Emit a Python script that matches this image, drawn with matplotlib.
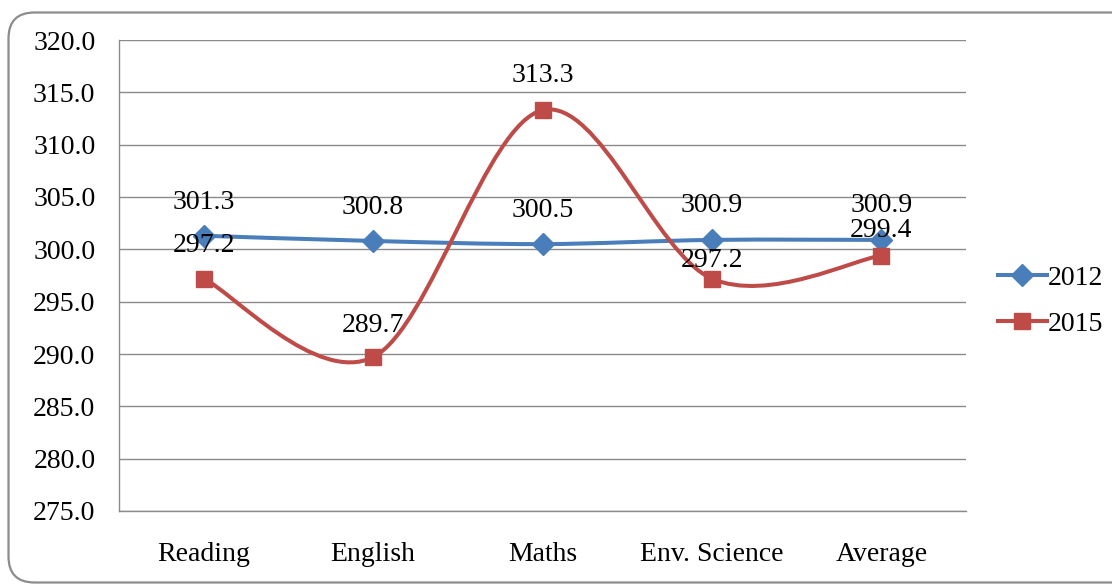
import matplotlib.pyplot as plt
import numpy as np
from matplotlib.path import Path
from matplotlib.patches import PathPatch, FancyBboxPatch
from matplotlib.lines import Line2D

plt.rcParams['font.family'] = ['Liberation Serif', 'DejaVu Serif']

categories = ['Reading', 'English', 'Maths', 'Env. Science', 'Average']
scores_2012 = [301.3, 300.8, 300.5, 300.9, 300.9]
scores_2015 = [297.2, 289.7, 313.3, 297.2, 299.4]
series_names = ['2012', '2015']
y_ticks = np.arange(275.0, 320.1, 5.0)

BLUE = '#4A7EBB'
RED = '#BE4B48'
GRID = '#8a8a8a'
FONT_SIZE = 20
LINE_W = 2.9

# how far above each marker its value label sits, in points
label_raise_2012 = [24, 24, 24, 25, 25]
label_raise_2015 = [24, 23, 25, 13, 18]


def smooth_path(xs, ys, tension=1.0 / 6.0):
    # spreadsheet-style smoothed line: cubic bezier through every point
    pts = np.column_stack([xs, ys]).astype(float)
    n = len(pts)
    verts = [pts[0]]
    codes = [Path.MOVETO]
    for i in range(n - 1):
        p_prev = pts[i - 1] if i > 0 else pts[i]
        p_next = pts[i + 2] if i + 2 < n else pts[i + 1]
        c1 = pts[i] + (pts[i + 1] - p_prev) * tension
        c2 = pts[i + 1] - (p_next - pts[i]) * tension
        verts += [c1, c2, pts[i + 1]]
        codes += [Path.CURVE4] * 3
    return Path(verts, codes)


def draw_series(ax, xs, ys, color, marker, msize, raises):
    patch = PathPatch(smooth_path(xs, ys), facecolor='none', edgecolor=color,
                      lw=LINE_W, capstyle='round', joinstyle='round', zorder=3)
    ax.add_patch(patch)
    ax.plot(xs, ys, linestyle='none', marker=marker, markersize=msize,
            color=color, markeredgecolor=color, zorder=4)
    for x, y, r in zip(xs, ys, raises):
        ax.annotate('%.1f' % y, (x, y), xytext=(0, r), textcoords='offset points',
                    ha='center', va='center', fontsize=FONT_SIZE, zorder=5)


fig = plt.figure(figsize=(11.12, 5.85), dpi=100)

# rounded chart frame, drawn on a pixel-unit background axes
bg = fig.add_axes([0, 0, 1, 1], zorder=-1)
bg.set_xlim(0, 1112)
bg.set_ylim(585, 0)
bg.axis('off')
frame = FancyBboxPatch((8.5, 12.5), 1200, 570,
                       boxstyle='round,pad=0,rounding_size=26',
                       facecolor='white', edgecolor='#8c8c8c', lw=1.6)
bg.add_patch(frame)

ax = fig.add_axes([119 / 1112, 74 / 585, 847 / 1112, 471 / 585])
ax.set_facecolor('none')
x = np.arange(len(categories))

draw_series(ax, x, scores_2012, BLUE, 'D', 11, label_raise_2012)
draw_series(ax, x, scores_2015, RED, 's', 11.5, label_raise_2015)

ax.set_xlim(-0.5, len(categories) - 0.5)
ax.set_ylim(275, 320)
ax.set_yticks(y_ticks)
ax.set_yticklabels(['%.1f' % v for v in y_ticks])
ax.set_xticks(x)
ax.set_xticklabels(categories)
ax.tick_params(axis='both', length=0, labelsize=FONT_SIZE)
ax.tick_params(axis='y', pad=17)
ax.tick_params(axis='x', pad=22)
ax.grid(axis='y', color=GRID, lw=1.0)
ax.set_axisbelow(True)
for side in ['top', 'right']:
    ax.spines[side].set_visible(False)
for side in ['left', 'bottom']:
    ax.spines[side].set_color(GRID)
    ax.spines[side].set_linewidth(1.0)

handles = [Line2D([], [], color=BLUE, lw=LINE_W, marker='D', markersize=11),
           Line2D([], [], color=RED, lw=LINE_W, marker='s', markersize=11.5)]
fig.legend(handles, series_names, loc='center left',
           bbox_to_anchor=(998 / 1112, 1 - 301 / 585), frameon=False,
           fontsize=FONT_SIZE, handlelength=1.75, handletextpad=0.05,
           labelspacing=0.75, borderpad=0, borderaxespad=0)

fig.savefig('out.png', dpi=100)
